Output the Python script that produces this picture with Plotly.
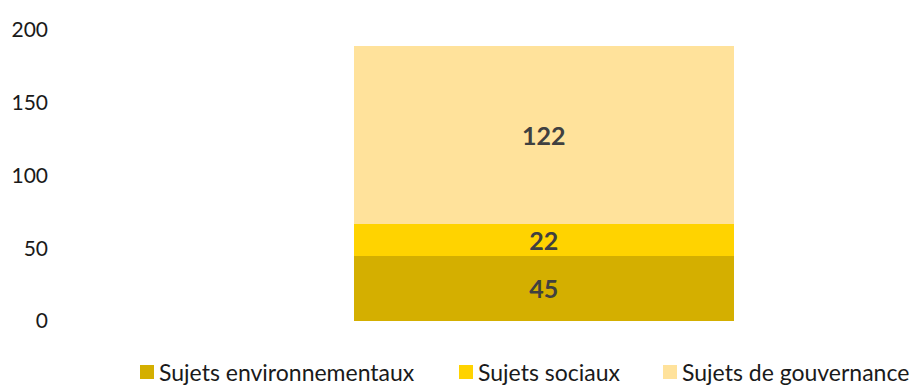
import plotly.graph_objects as go

categories = [""]
series_names = ["Sujets environnementaux", "Sujets sociaux", "Sujets de gouvernance"]
environnementaux = [45]
sociaux = [22]
gouvernance = [122]
colors = ["#D4AF00", "#FFD300", "#FFE29B"]
y_ticks = [0, 50, 100, 150, 200]

W, H = 913, 385
M = dict(l=60, r=0, t=30, b=64)
PW, PH = W - M["l"] - M["r"], H - M["t"] - M["b"]


def px_x(px):
    return (px - M["l"]) / PW


def px_y(py):
    return (H - M["b"] - py) / PH


fig = go.Figure()
for name, values, color in zip(series_names, [environnementaux, sociaux, gouvernance], colors):
    fig.add_trace(go.Bar(
        x=categories,
        y=values,
        name=name,
        marker=dict(color=color, line=dict(width=0)),
        width=0.785,
        text=[str(v) for v in values],
        textposition="inside",
        textangle=0,
        constraintext="none",
        insidetextanchor="middle",
        textfont=dict(family="Lato", size=25, color="#404040", weight="bold"),
        hoverinfo="skip",
        showlegend=False,
    ))

# Legend row drawn below the plot: colour square + label per series
legend_left = [140, 459, 663]
legend_mid = 372
sq = 14
shapes, annotations = [], []
for left, name, color in zip(legend_left, series_names, colors):
    shapes.append(dict(
        type="rect", xref="paper", yref="paper",
        x0=px_x(left), x1=px_x(left + sq),
        y0=px_y(legend_mid + sq / 2), y1=px_y(legend_mid - sq / 2),
        fillcolor=color, line=dict(width=0),
    ))
    annotations.append(dict(
        xref="paper", yref="paper",
        x=px_x(left + sq + 3), y=px_y(legend_mid),
        xanchor="left", yanchor="middle",
        text=name, showarrow=False,
        font=dict(family="Lato", size=23, color="#1a1a1a"),
    ))

fig.update_layout(
    barmode="stack",
    width=W,
    height=H,
    margin=M,
    paper_bgcolor="white",
    plot_bgcolor="white",
    font=dict(family="Lato", size=21, color="#1a1a1a"),
    showlegend=False,
    shapes=shapes,
    annotations=annotations,
    xaxis=dict(
        type="category",
        range=[-1, 0.763],
        showgrid=False,
        zeroline=False,
        showline=False,
        showticklabels=False,
        fixedrange=True,
    ),
    yaxis=dict(
        range=[0, 200],
        tickvals=y_ticks,
        showgrid=False,
        zeroline=False,
        showline=False,
        ticks="",
        ticklabelstandoff=11,
        fixedrange=True,
    ),
    uniformtext=dict(mode=False),
)

fig.write_html("out.html")
